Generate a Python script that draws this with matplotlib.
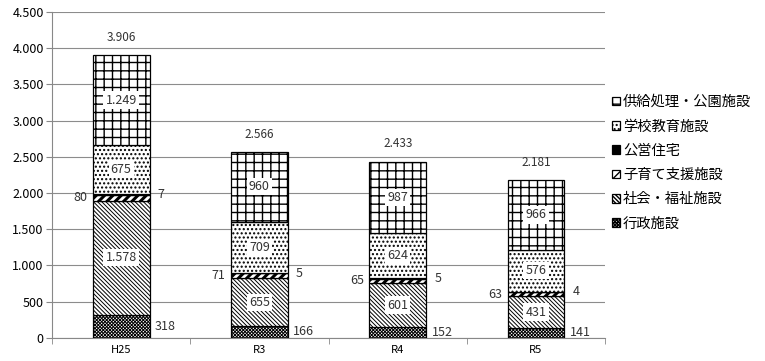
import matplotlib
matplotlib.use("Agg")
import matplotlib.pyplot as plt
import matplotlib.ticker as ticker
import numpy as np

plt.rcParams['font.family'] = ['Noto Sans CJK JP', 'DejaVu Sans']

years = ["H25", "R3", "R4", "R5"]
series_names = ["行政施設", "社会・福祉施設", "子育て支援施設", "公営住宅", "学校教育施設", "供給処理・公園施設"]
gyosei = [318, 166, 152, 141]
shakai = [1578, 655, 601, 431]
kosodate = [80, 71, 65, 63]
koei = [7, 5, 5, 4]
gakko = [675, 709, 624, 576]
kyokyu = [1249, 960, 987, 966]
totals = [3906, 2566, 2433, 2181]

hatches = ["x" * 10, "\\" * 8, "////", "", "....", "++"]
faces = ["white", "white", "white", "black", "white", "white"]
hatch_lw = [0.7, 0.7, 2.2, 1.0, 1.0, 1.0]


def fmt(v):
    return "{:,}".format(int(v)).replace(",", ".")


def main():
    data = [gyosei, shakai, kosodate, koei, gakko, kyokyu]
    x = np.arange(len(years))
    width = 0.41

    fig = plt.figure(figsize=(7.65, 3.61), dpi=100)
    ax = fig.add_axes([0.068, 0.064, 0.723, 0.903])

    bottom = np.zeros(len(years))
    handles = []
    for i, vals in enumerate(data):
        vals = np.array(vals, dtype=float)
        bars = ax.bar(x, vals, width, bottom=bottom, color=faces[i], edgecolor="black",
                      linewidth=0.9, hatch=hatches[i], label=series_names[i], zorder=3)
        for b in bars:
            b.set_hatch_linewidth(hatch_lw[i])
        handles.append(bars)
        mids = bottom + vals / 2
        for j in range(len(years)):
            if i in (1, 4, 5):
                ax.text(x[j], mids[j], fmt(vals[j]), ha="center", va="center", fontsize=9,
                        color="#333333", zorder=5,
                        bbox=dict(facecolor="white", edgecolor="none", pad=1.5))
            elif i == 0:
                ax.annotate(fmt(vals[j]), (x[j] + width / 2, mids[j]), xytext=(4, 0),
                            textcoords="offset points", ha="left", va="center",
                            fontsize=9, color="#333333")
            elif i == 2:
                ax.annotate(fmt(vals[j]), (x[j] - width / 2, mids[j]), xytext=(-4, 0),
                            textcoords="offset points", ha="right", va="center",
                            fontsize=9, color="#333333")
            elif i == 3:
                ax.annotate(fmt(vals[j]), (x[j] + width / 2, mids[j]), xytext=(6, 0),
                            textcoords="offset points", ha="left", va="center",
                            fontsize=9, color="#333333")
        bottom = bottom + vals

    for j in range(len(years)):
        ax.annotate(fmt(totals[j]), (x[j], bottom[j]), xytext=(0, 8),
                    textcoords="offset points", ha="center", va="bottom",
                    fontsize=8.5, color="#333333")

    ax.set_xlim(-0.5, len(years) - 0.5)
    ax.set_ylim(0, 4500)
    ax.yaxis.set_major_locator(ticker.MultipleLocator(500))
    ax.yaxis.set_major_formatter(ticker.FuncFormatter(lambda v, p: fmt(v)))
    ax.set_xticks(x, years)
    ax.set_xticks(np.arange(-0.5, len(years)), minor=True)
    ax.tick_params(axis="x", which="major", length=0, labelsize=8, pad=5)
    ax.tick_params(axis="x", which="minor", length=4, color="#888888")
    ax.tick_params(axis="y", length=4, color="#888888", labelsize=9, pad=2)
    ax.grid(axis="y", color="#8c8c8c", linewidth=0.8, zorder=0)
    for s in ["top", "right"]:
        ax.spines[s].set_visible(False)
    ax.spines["left"].set_color("#888888")
    ax.spines["bottom"].set_color("#888888")

    leg = ax.legend(handles[::-1], series_names[::-1], loc="center left",
                    bbox_to_anchor=(1.0, 0.537), frameon=False, fontsize=10.3,
                    handlelength=0.55, handleheight=0.55, handletextpad=0.2,
                    labelspacing=0.72, borderpad=0.2, borderaxespad=0.3)

    fig.savefig("out.png", dpi=100)


if __name__ == "__main__":
    main()
